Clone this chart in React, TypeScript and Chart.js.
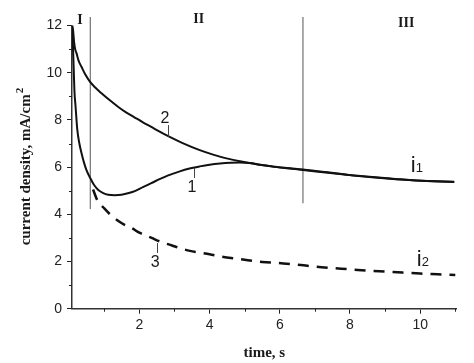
import React, { useEffect, useRef } from "react";
import { Chart, registerables } from "chart.js";

Chart.register(...registerables);

// ---- data (time in s, current density in mA/cm2) ----
const curve1Time = [0.09, 0.11, 0.13, 0.15, 0.18, 0.23, 0.29, 0.35, 0.42, 0.49, 0.56, 0.63, 0.72, 0.83, 0.97, 1.11, 1.3, 1.49, 1.7, 1.87, 2.1, 2.34, 2.59, 2.82, 3.15, 3.4, 3.72, 4.0, 4.3, 4.6, 4.86, 5.14, 5.43, 5.8, 6.2, 6.66, 7.3, 7.98, 8.8, 9.3, 9.69, 10.3, 10.97];
const curve1Current = [11.8, 11.0, 10.1, 9.2, 8.6, 7.6, 7.0, 6.6, 6.2, 5.88, 5.65, 5.45, 5.22, 5.03, 4.9, 4.83, 4.81, 4.83, 4.9, 4.98, 5.15, 5.32, 5.5, 5.65, 5.82, 5.93, 6.03, 6.1, 6.15, 6.18, 6.19, 6.17, 6.1, 6.02, 5.95, 5.88, 5.77, 5.67, 5.56, 5.5, 5.45, 5.41, 5.38];

const curve2Time = [0.09, 0.11, 0.14, 0.17, 0.21, 0.27, 0.35, 0.46, 0.59, 0.75, 0.92, 1.15, 1.39, 1.62, 1.87, 2.1, 2.34, 2.59, 2.82, 3.2, 3.72, 4.1, 4.48, 4.94, 5.43, 5.8, 6.2, 6.66, 7.3, 7.98, 8.8, 9.3, 9.69, 10.3, 10.97];
const curve2Current = [12.0, 11.8, 11.3, 11.0, 10.82, 10.5, 10.25, 9.92, 9.62, 9.36, 9.13, 8.84, 8.56, 8.32, 8.1, 7.9, 7.7, 7.49, 7.31, 7.04, 6.72, 6.53, 6.37, 6.23, 6.1, 6.03, 5.96, 5.9, 5.79, 5.66, 5.55, 5.49, 5.45, 5.4, 5.37];

const curve3Time = [0.68, 0.8, 1.0, 1.2, 1.5, 1.8, 2.0, 2.35, 2.6, 2.93, 3.15, 3.44, 3.72, 4.0, 4.35, 4.66, 5.0, 5.5, 6.1, 6.6, 7.0, 7.5, 8.0, 8.5, 9.0, 9.5, 10.0, 10.5, 11.0];
const curve3Current = [5.05, 4.6, 4.25, 3.95, 3.62, 3.4, 3.22, 3.0, 2.84, 2.68, 2.57, 2.45, 2.38, 2.31, 2.2, 2.14, 2.07, 1.98, 1.92, 1.85, 1.78, 1.72, 1.67, 1.61, 1.57, 1.53, 1.49, 1.46, 1.43];

// region boundaries: time, bottom and top current of the marker lines
const boundaryTimes = [0.6, 6.66];
const boundaryBottoms = [4.22, 4.47];
const boundaryTop = 12.36;

const xMajorTicks = [2, 4, 6, 8, 10];
const xMinorTicks = [1, 3, 5, 7, 9, 11];
const yMinorTicks = [1, 3, 5, 7, 9, 11];

const regionLabels = ["I", "II", "III"];
const regionLabelTimes = [0.31, 3.69, 9.6];
const regionLabelCurrents = [12.08, 12.09, 11.95];

const curveLabels = ["2", "1", "3"];
const curveLabelTimes = [2.73, 3.5, 2.45];
const curveLabelCurrents = [7.85, 4.96, 1.78];
const leaderTimes = [2.81, 3.56, 2.5];
const leaderFrom = [7.78, 5.96, 2.78];
const leaderTo = [7.28, 5.54, 2.36];

const limitLabels = ["1", "2"];
const limitLabelTimes = [9.76, 9.93];
const limitLabelCurrents = [5.81, 1.81];

const pts = (xs: number[], ys: number[]) => xs.map((x, i) => ({ x, y: ys[i] }));

const overlay = {
  id: "overlay",
  afterDraw(chart: any) {
    const ctx = chart.ctx;
    const xs = chart.scales.x;
    const ys = chart.scales.y;
    const area = chart.chartArea;
    ctx.save();
    ctx.strokeStyle = "#222";
    ctx.lineWidth = 1;
    // minor ticks
    ctx.beginPath();
    xMinorTicks.forEach((v) => {
      const px = Math.round(xs.getPixelForValue(v)) + 0.5;
      ctx.moveTo(px, area.bottom);
      ctx.lineTo(px, area.bottom + 3);
    });
    yMinorTicks.forEach((v) => {
      const py = Math.round(ys.getPixelForValue(v)) + 0.5;
      ctx.moveTo(area.left, py);
      ctx.lineTo(area.left - 3, py);
    });
    ctx.stroke();

    // leaders
    ctx.strokeStyle = "#444";
    ctx.beginPath();
    leaderTimes.forEach((t, i) => {
      const px = Math.round(xs.getPixelForValue(t)) + 0.5;
      ctx.moveTo(px, ys.getPixelForValue(leaderFrom[i]));
      ctx.lineTo(px, ys.getPixelForValue(leaderTo[i]));
    });
    ctx.stroke();

    ctx.fillStyle = "#1a1a1a";
    // region labels
    ctx.font = "bold 14px 'Liberation Serif', serif";
    ctx.textAlign = "center";
    ctx.textBaseline = "alphabetic";
    regionLabels.forEach((s, i) => {
      ctx.fillText(s, xs.getPixelForValue(regionLabelTimes[i]), ys.getPixelForValue(regionLabelCurrents[i]));
    });

    // curve labels
    ctx.font = "16px 'Liberation Sans', Arial, sans-serif";
    curveLabels.forEach((s, i) => {
      ctx.fillText(s, xs.getPixelForValue(curveLabelTimes[i]), ys.getPixelForValue(curveLabelCurrents[i]));
    });

    // i1, i2
    ctx.textAlign = "left";
    limitLabels.forEach((s, i) => {
      const px = xs.getPixelForValue(limitLabelTimes[i]);
      const py = ys.getPixelForValue(limitLabelCurrents[i]);
      ctx.font = "22px 'Liberation Sans', Arial, sans-serif";
      ctx.fillText("i", px - 1, py);
      const w = ctx.measureText("i").width;
      ctx.font = "13px 'Liberation Sans', Arial, sans-serif";
      ctx.fillText(s, px - 1 + w, py);
    });

    // axis titles
    ctx.font = "bold 15px 'Liberation Serif', serif";
    ctx.textAlign = "center";
    ctx.fillText("time, s", (area.left + area.right) / 2, 357);

    ctx.save();
    ctx.translate(30, (area.top + area.bottom) / 2);
    ctx.rotate(-Math.PI / 2);
    const main = "current density, mA/cm";
    ctx.font = "bold 15px 'Liberation Serif', serif";
    const wMain = ctx.measureText(main).width;
    ctx.font = "bold 11px 'Liberation Serif', serif";
    const wSup = ctx.measureText("2").width;
    const start = -(wMain + wSup) / 2;
    ctx.textAlign = "left";
    ctx.font = "bold 15px 'Liberation Serif', serif";
    ctx.fillText(main, start, 0);
    ctx.font = "bold 11px 'Liberation Serif', serif";
    ctx.fillText("2", start + wMain + 1, -7);
    ctx.restore();

    ctx.restore();
  },
};

export default function App() {
  const ref = useRef<HTMLCanvasElement | null>(null);

  useEffect(() => {
    if (!ref.current) return;
    const boundaryDatasets = boundaryTimes.map((t, i) => ({
      data: [
        { x: t, y: boundaryBottoms[i] },
        { x: t, y: boundaryTop },
      ],
      borderColor: "#555",
      borderWidth: 1,
      pointRadius: 0,
      clip: false as any,
      order: 5,
    }));
    const chart = new Chart(ref.current, {
      type: "line",
      data: {
        datasets: [
          ...boundaryDatasets,
          {
            data: pts(curve1Time, curve1Current),
            borderColor: "#111",
            borderWidth: 2,
            pointRadius: 0,
            cubicInterpolationMode: "monotone",
            order: 1,
          },
          {
            data: pts(curve2Time, curve2Current),
            borderColor: "#111",
            borderWidth: 2,
            pointRadius: 0,
            cubicInterpolationMode: "monotone",
            order: 1,
          },
          {
            data: pts(curve3Time, curve3Current),
            borderColor: "#111",
            borderWidth: 2.5,
            borderDash: [11, 8],
            pointRadius: 0,
            cubicInterpolationMode: "monotone",
            order: 1,
          },
        ] as any,
      },
      options: {
        animation: false,
        responsive: true,
        maintainAspectRatio: false,
        layout: { padding: { top: 25.5, right: 17.3, left: 0, bottom: 0 } },
        plugins: { legend: { display: false }, tooltip: { enabled: false }, title: { display: false } },
        scales: {
          x: {
            type: "linear",
            min: 0.08,
            max: 11.04,
            afterBuildTicks: (scale: any) => {
              scale.ticks = xMajorTicks.map((v) => ({ value: v }));
            },
            afterFit: (scale: any) => {
              scale.height = 363 - 308.7;
            },
            grid: { drawOnChartArea: false, drawTicks: true, tickLength: 5, color: "#222", lineWidth: 1 },
            border: { display: true, color: "#333", width: 1.5 },
            ticks: {
              color: "#222",
              padding: 3,
              maxRotation: 0,
              autoSkip: false,
              font: { family: "'Liberation Sans', Arial, sans-serif", size: 14 },
            },
          },
          y: {
            type: "linear",
            min: 0,
            max: 12,
            afterFit: (scale: any) => {
              scale.width = 72;
            },
            grid: { drawOnChartArea: false, drawTicks: true, tickLength: 5, color: "#222", lineWidth: 1 },
            border: { display: true, color: "#333", width: 1.5 },
            ticks: {
              stepSize: 2,
              color: "#222",
              padding: 5,
              font: { family: "'Liberation Sans', Arial, sans-serif", size: 14 },
            },
          },
        },
      },
      plugins: [overlay],
    });
    return () => chart.destroy();
  }, []);

  return (
    <div style={{ position: "fixed", left: 0, top: 0, width: 474, height: 363, background: "#fff" }}>
      <canvas ref={ref} />
    </div>
  );
}
